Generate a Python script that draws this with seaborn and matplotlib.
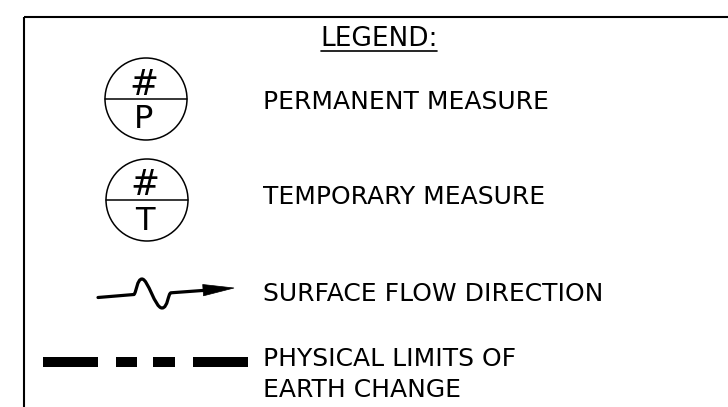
import numpy as np
import pandas as pd
import matplotlib
matplotlib.use("Agg")
import matplotlib.pyplot as plt
from matplotlib.path import Path
from matplotlib.patches import PathPatch, Circle, Polygon
import seaborn as sns

# ---- content ----
title = "LEGEND:"
labels = ["PERMANENT MEASURE", "TEMPORARY MEASURE", "SURFACE FLOW DIRECTION",
          "PHYSICAL LIMITS OF", "EARTH CHANGE"]
symbol_top = ["#", "#"]
symbol_bottom = ["P", "T"]

# ---- layout (pixel space, y down) ----
W, H = 728, 407
label_x = 263
label_base = [109, 204, 301, 366, 397]
circ_cx = [146, 147]
circ_cy = [99, 200]
circ_r = 41
sym_x = [144, 145]
sym_top_base = [95, 195]
sym_bot_base = [128, 230]
dash_x0 = [43, 116, 153, 193]
dash_x1 = [98, 137, 175, 248]
dash_y = 362

sns.set_theme(style="white")
plt.rcParams["font.family"] = ["DejaVu Sans"]

fig = plt.figure(figsize=(W / 100, H / 100), dpi=100)
ax = fig.add_axes([0, 0, 1, 1])
ax.set_xlim(0, W)
ax.set_ylim(H, 0)
ax.axis("off")

# frame
ax.plot([23.5, W], [16.5, 16.5], color="black", lw=1.5, solid_capstyle="butt")
ax.plot([23.5, 23.5], [16.5, H], color="black", lw=1.5, solid_capstyle="butt")

# title
ax.text(379, 46, title, fontsize=19, ha="center", va="baseline", color="black")
ax.plot([321, 437], [50.5, 50.5], color="black", lw=1.2)

# circle symbols
for cx, cy, sx, tb, bb, st, sb in zip(circ_cx, circ_cy, sym_x, sym_top_base,
                                      sym_bot_base, symbol_top, symbol_bottom):
    ax.add_patch(Circle((cx, cy), circ_r, fill=False, ec="black", lw=1.1))
    ax.plot([cx - circ_r, cx + circ_r], [cy, cy], color="black", lw=1.1)
    ax.text(sx, tb, st, fontsize=25, ha="center", va="baseline", color="black")
    ax.text(sx, bb, sb, fontsize=23, ha="center", va="baseline", color="black")

# labels
for lab, yb in zip(labels, label_base):
    ax.text(label_x, yb, lab, fontsize=18, ha="left", va="baseline", color="black")

# surface flow arrow
verts = [(98, 297.5), (134, 294.5),
         (136.5, 292), (137, 279), (142, 279),
         (148, 279), (155, 308), (162, 308),
         (168, 308), (168, 293), (171, 292.8),
         (205, 290.3)]
codes = [Path.MOVETO, Path.LINETO,
         Path.CURVE4, Path.CURVE4, Path.CURVE4,
         Path.CURVE4, Path.CURVE4, Path.CURVE4,
         Path.CURVE4, Path.CURVE4, Path.CURVE4,
         Path.LINETO]
ax.add_patch(PathPatch(Path(verts, codes), fill=False, ec="black", lw=2.3,
                       capstyle="round", joinstyle="round"))
ax.add_patch(Polygon([(234, 288), (202.7, 284.5), (203.5, 295.8)],
                     closed=True, fc="black", ec="black", lw=0.5))

# physical limits dashed line
for x0, x1 in zip(dash_x0, dash_x1):
    seg = pd.DataFrame({"x": [x0, x1], "y": [dash_y, dash_y]})
    sns.lineplot(data=seg, x="x", y="y", ax=ax, color="black", lw=7.2,
                 solid_capstyle="butt", sort=False)

ax.set_xlim(0, W)
ax.set_ylim(H, 0)
ax.axis("off")
fig.savefig("out.png", dpi=100, facecolor="white")
